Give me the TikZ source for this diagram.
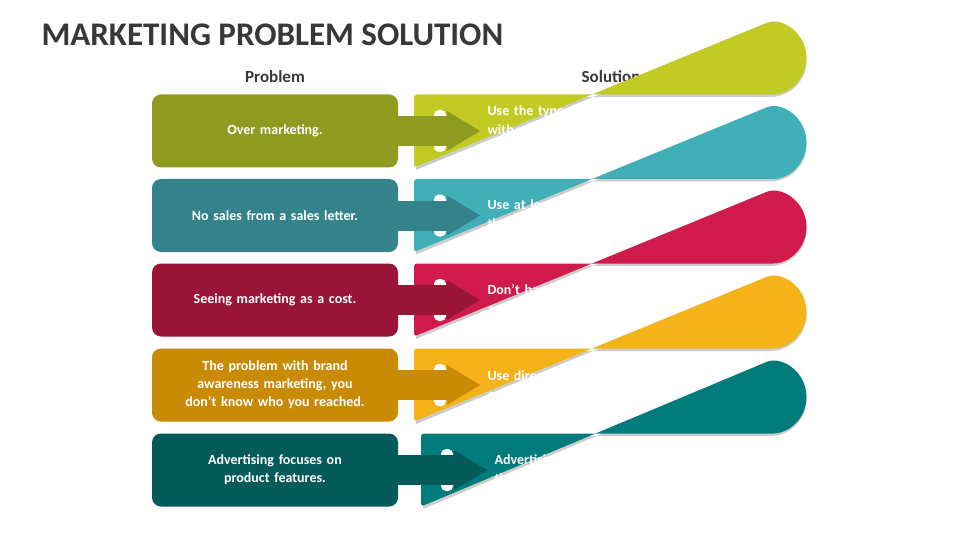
\documentclass[tikz,border=0pt]{standalone}
\usepackage{fontspec}
\setmainfont{Carlito}
\definecolor{d1}{RGB}{142,155,30}\definecolor{l1}{RGB}{194,203,35}
\definecolor{d2}{RGB}{53,131,138}\definecolor{l2}{RGB}{65,175,184}
\definecolor{d3}{RGB}{153,21,56}\definecolor{l3}{RGB}{208,26,76}
\definecolor{d4}{RGB}{201,138,6}\definecolor{l4}{RGB}{246,179,25}
\definecolor{d5}{RGB}{5,90,90}\definecolor{l5}{RGB}{1,123,123}
\begin{document}
\begin{tikzpicture}[x=1pt,y=-1pt,
  ptext/.style={text=white,font=\bfseries\fontsize{14}{18}\selectfont,align=center,text width=200pt},
  stext/.style={text=white,font=\bfseries\fontsize{14}{19}\selectfont,align=left,anchor=west,text width=300pt}]
\fill[white] (0,0) rectangle (960,540);
\useasboundingbox (0,0) rectangle (960,540);
\node[anchor=west,text=black!78,font=\bfseries\fontsize{33}{36}\selectfont] (title) at (38,35) {MARKETING PROBLEM SOLUTION};
\node[text=black!78,font=\bfseries\fontsize{17}{20}\selectfont] (hp) at (275,77) {Problem};
\node[text=black!78,font=\bfseries\fontsize{17}{20}\selectfont] (hs) at (611,77) {Solution};
\def\row#1#2#3#4#5#6#7{%
  \begin{scope}[shift={(0,#1)}]
  \fill[black!20] (#4+2,-34) -- (770,-34) arc(90:-90:36.5) -- (#4+2,39) -- cycle;
  \fill[#3,rounded corners=3pt] (#4,-36.5) -- (770,-36.5) arc(90:-90:36.5) -- (#4,36.5) -- cycle;
  \fill[#2,rounded corners=9pt] (152,-36.5) rectangle (398,36.5);
  \fill[white,rounded corners=5pt] (#4+20,-21) rectangle (#4+32,21);
  \fill[#2] (390,-15) rectangle (#4+33,15);
  \fill[#2] (#4+33,-20) -- (#4+66,0) -- (#4+33,20) -- cycle;
  \node[ptext] (p#7) at (275,0) {#5};
  \node[stext] (s#7) at (#4+70,0) {#6};
  \end{scope}}
\row{131}{d1}{l1}{414}{Over marketing.}{Use the types of marketing strategy that fit\\with your business plan and follow it\\consistently and constantly.}{1}
\row{215.5}{d2}{l2}{414}{No sales from a sales letter.}{Use at least a sequence of three letters\\that take clients through the sales process.}{2}
\row{300}{d3}{l3}{414}{Seeing marketing as a cost.}{Don’t base the return on investment for\\analyzing marketing on the first results.}{3}
\row{385}{d4}{l4}{414}{The problem with brand\\awareness marketing, you\\don’t know who you reached.}{Use direct marketing because you\\can measure it.}{4}
\row{470}{d5}{l5}{421}{Advertising focuses on\\product features.}{Advertising should focus on the benefits\\the purchaser would enjoy.}{5}
\end{tikzpicture}
\end{document}
